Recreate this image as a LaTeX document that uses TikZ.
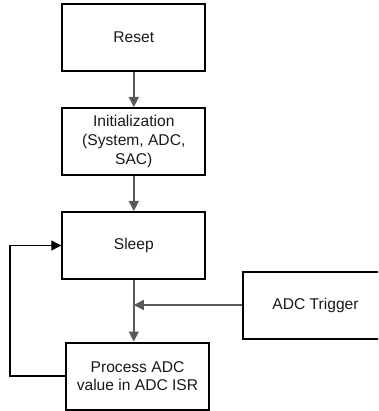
\documentclass[tikz,border=0pt]{standalone}
\usepackage{fontspec}
\setmainfont{Liberation Sans}
\usetikzlibrary{arrows.meta}
\tikzset{
  box/.style={draw=black, line width=2pt, minimum width=143pt, minimum height=67pt,
    inner sep=0pt, align=center, text=black!90,
    font=\fontsize{15.6pt}{18.6pt}\selectfont},
  conn/.style={draw=black!65, line width=1.5pt, -{Triangle[length=10pt,width=10pt]}},
  loopline/.style={draw=black, line width=1.1pt, -{Triangle[length=10pt,width=10pt]}}
}
\begin{document}
\begin{tikzpicture}[x=1pt,y=-1pt]
\useasboundingbox (0,0) rectangle (378,411);
\clip (0,0) rectangle (378,411);
\node[box] (reset) at (133.8,37.5) {Reset};
\node[box] (init) at (133.8,141.5) {Initialization\\(System, ADC,\\SAC)};
\node[box] (sleep) at (133.8,245.5) {Sleep};
\node[box, minimum width=145pt] (trig) at (315.5,305) {ADC Trigger};
\node[box] (proc) at (137.5,376) {Process ADC\\value in ADC ISR};
\coordinate (join) at (sleep.south |- trig.west);
\draw[conn] (reset.south) -- (init.north);
\draw[conn] (init.south) -- (sleep.north);
\draw[conn] (sleep.south) -- (sleep.south |- proc.north);
\draw[conn] (trig.west) -- (join);
\draw[loopline] (proc.west) -- ++(-55,0) |- (sleep.west);
\end{tikzpicture}
\end{document}
